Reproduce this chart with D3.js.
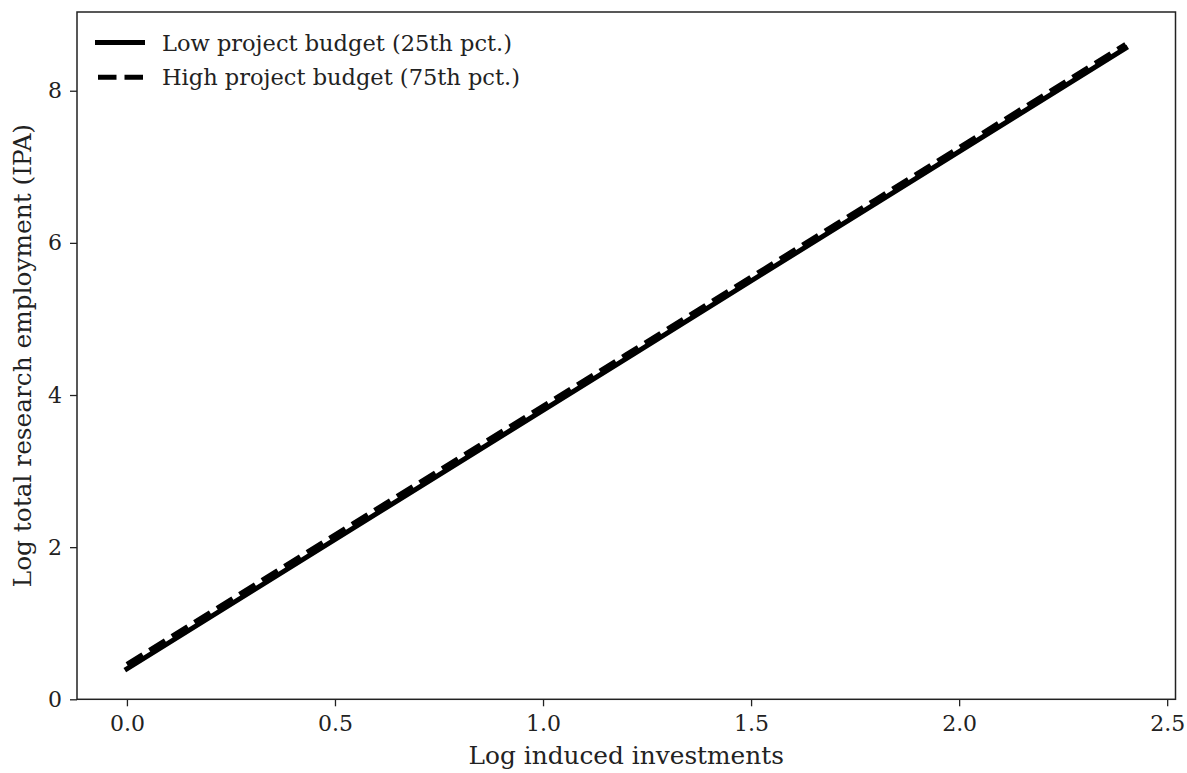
<!DOCTYPE html>
<html>
<head>
<meta charset="utf-8">
<script src="https://cdn.jsdelivr.net/npm/d3@7"></script>
<style>
  html, body { margin: 0; padding: 0; background: #fff; }
  svg { display: block; }
  text { font-family: "DejaVu Serif", serif; fill: #222; }
</style>
</head>
<body>
<svg id="chart" width="1187" height="773"></svg>
<script>
// Data
const xValues = [0.0, 0.6, 1.2, 1.8, 2.4];
const lowBudget = [0.40, 2.44, 4.48, 6.52, 8.56];
const highBudget = [0.46, 2.50, 4.53, 6.57, 8.61];
const seriesNames = ["Low project budget (25th pct.)", "High project budget (75th pct.)"];
const xTicks = [0.0, 0.5, 1.0, 1.5, 2.0, 2.5];
const yTicks = [0, 2, 4, 6, 8];
const xLabel = "Log induced investments";
const yLabel = "Log total research employment (IPA)";

const svg = d3.select("#chart");
const margin = { left: 77, right: 1187 - 1175.5, top: 12, bottom: 773 - 699.3 };
const W = 1187, H = 773;

const x = d3.scaleLinear().domain([-0.12, 2.52]).range([margin.left, W - margin.right]);
const y = d3.scaleLinear().domain([0, 9.035]).range([H - margin.bottom, margin.top]);

const axisColor = "#222";

// Lines
const line = d3.line().x(d => x(d[0])).y(d => y(d[1]));
const lowData = xValues.map((v, i) => [v, lowBudget[i]]);
const highData = xValues.map((v, i) => [v, highBudget[i]]);

const plot = svg.append("g");
plot.append("path").datum(lowData)
  .attr("d", line).attr("fill", "none").attr("stroke", "#000")
  .attr("stroke-width", 5).attr("stroke-linecap", "square");
plot.append("path").datum(highData)
  .attr("d", line).attr("fill", "none").attr("stroke", "#000")
  .attr("stroke-width", 5).attr("stroke-dasharray", "18.5,8");

// Axes
const xAxis = d3.axisBottom(x).tickValues(xTicks).tickFormat(d3.format(".1f")).tickSizeOuter(0).tickSize(7).tickPadding(9);
const yAxis = d3.axisLeft(y).tickValues(yTicks).tickFormat(d3.format("d")).tickSizeOuter(0).tickSize(7).tickPadding(8);

const gx = svg.append("g").attr("transform", `translate(0,${H - margin.bottom})`).call(xAxis);
const gy = svg.append("g").attr("transform", `translate(${margin.left},0)`).call(yAxis);
[gx, gy].forEach(g => {
  g.select(".domain").remove();
  g.selectAll(".tick line").attr("stroke", axisColor).attr("stroke-width", 1.3);
  g.selectAll(".tick text").attr("font-family", "DejaVu Serif").attr("font-size", 22).attr("fill", "#222");
});

// Frame
svg.append("rect")
  .attr("x", margin.left).attr("y", margin.top)
  .attr("width", W - margin.right - margin.left)
  .attr("height", H - margin.bottom - margin.top)
  .attr("fill", "none").attr("stroke", axisColor).attr("stroke-width", 1.5);

// Axis labels
svg.append("text")
  .attr("x", (margin.left + W - margin.right) / 2).attr("y", 764)
  .attr("text-anchor", "middle").attr("font-size", 24.8).text(xLabel);
svg.append("text")
  .attr("transform", `translate(31,${(margin.top + H - margin.bottom) / 2}) rotate(-90)`)
  .attr("text-anchor", "middle").attr("font-size", 24.8).text(yLabel);

// Legend
const legend = svg.append("g");
const legendRows = [
  { name: seriesNames[0], dash: null, yy: 42.5 },
  { name: seriesNames[1], dash: "18.5,8", yy: 77.3 }
];
legendRows.forEach(r => {
  const ln = legend.append("line")
    .attr("x1", 95).attr("x2", 145).attr("y1", r.yy).attr("y2", r.yy)
    .attr("stroke", "#000").attr("stroke-width", 5);
  if (r.dash) ln.attr("stroke-dasharray", r.dash).attr("x1", 98).attr("x2", 143);
  legend.append("text").attr("x", 162).attr("y", r.yy + 8)
    .attr("font-size", 22.5).text(r.name);
});
</script>
</body>
</html>
